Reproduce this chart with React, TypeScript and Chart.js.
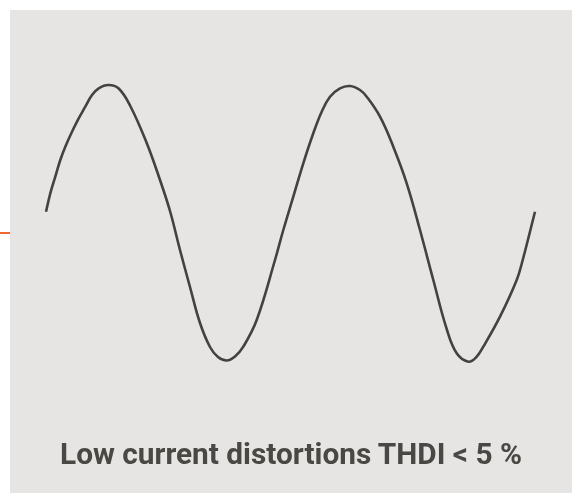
import React, { useEffect, useRef } from "react";
import { Chart, registerables } from "chart.js";

Chart.register(...registerables);

// Waveform samples: x (px from wave start), amplitude (px above mid-line)
const waveX = [0, 4.3, 9.3, 14.3, 19.3, 26, 32.7, 39.3, 46, 52.7, 62.5, 72.7, 84.3, 100.7, 114, 124, 134, 144, 154, 164, 172, 180.7, 189, 197.3, 210.7, 229, 237.3, 247.3, 257.3, 267.3, 275.7, 284, 294, 304, 314, 320.7, 334, 347.3, 360.7, 374, 387.3, 400.7, 410.7, 422.3, 430, 437.3, 454, 470.7, 476.7, 489];
const waveY = [11.3, 29.7, 46.3, 63, 76.3, 91.3, 104.7, 116.3, 128, 134.7, 138, 134.5, 117, 80, 43, 12, -27, -64, -100, -124, -134, -137.5, -133.5, -123.7, -97, -37, -7, 26.3, 59.7, 89.7, 111.3, 126.3, 134.7, 137, 133, 126.3, 106.3, 76.3, 39.7, -7, -57, -106, -130.3, -138.7, -134.5, -123.7, -93.7, -57, -37, 11.3];
const caption = "Low current distortions THDI < 5 %";

export default function App() {
  const ref = useRef<HTMLCanvasElement | null>(null);
  useEffect(() => {
    if (!ref.current) return;
    const chart = new Chart(ref.current, {
      type: "line",
      data: {
        datasets: [
          {
            data: waveX.map((x, i) => ({ x, y: waveY[i] })),
            borderColor: "#43423f",
            borderWidth: 2.6,
            pointRadius: 0,
            tension: 0.4,
            fill: false,
          },
        ],
      },
      options: {
        animation: false,
        responsive: false,
        maintainAspectRatio: false,
        layout: { padding: 0 },
        plugins: { legend: { display: false }, tooltip: { enabled: false }, title: { display: false } },
        scales: {
          x: { type: "linear", min: -36, max: 526, display: false },
          y: { type: "linear", min: -270, max: 213, display: false },
        },
      },
    });
    return () => chart.destroy();
  }, []);
  return (
    <div style={{ position: "fixed", left: 0, top: 0, width: 572, height: 493, background: "#ffffff", overflow: "hidden" }}>
      <div style={{ position: "absolute", left: 0, top: 232, width: 10, height: 2, background: "#f0692c" }} />
      <div style={{ position: "absolute", left: 10, top: 10, width: 562, height: 483, background: "#e6e5e3" }}>
        <canvas ref={ref} width={562} height={483} style={{ position: "absolute", left: 0, top: 0, width: 562, height: 483 }} />
        <div
          style={{
            position: "absolute",
            left: 0,
            width: 562,
            top: 428.5,
            textAlign: "center",
            fontFamily: "Roboto, sans-serif",
            fontWeight: 700,
            fontSize: 29.8,
            lineHeight: "29.8px",
            color: "#4a4844",
            whiteSpace: "nowrap",
          }}
        >
          {caption}
        </div>
      </div>
    </div>
  );
}
